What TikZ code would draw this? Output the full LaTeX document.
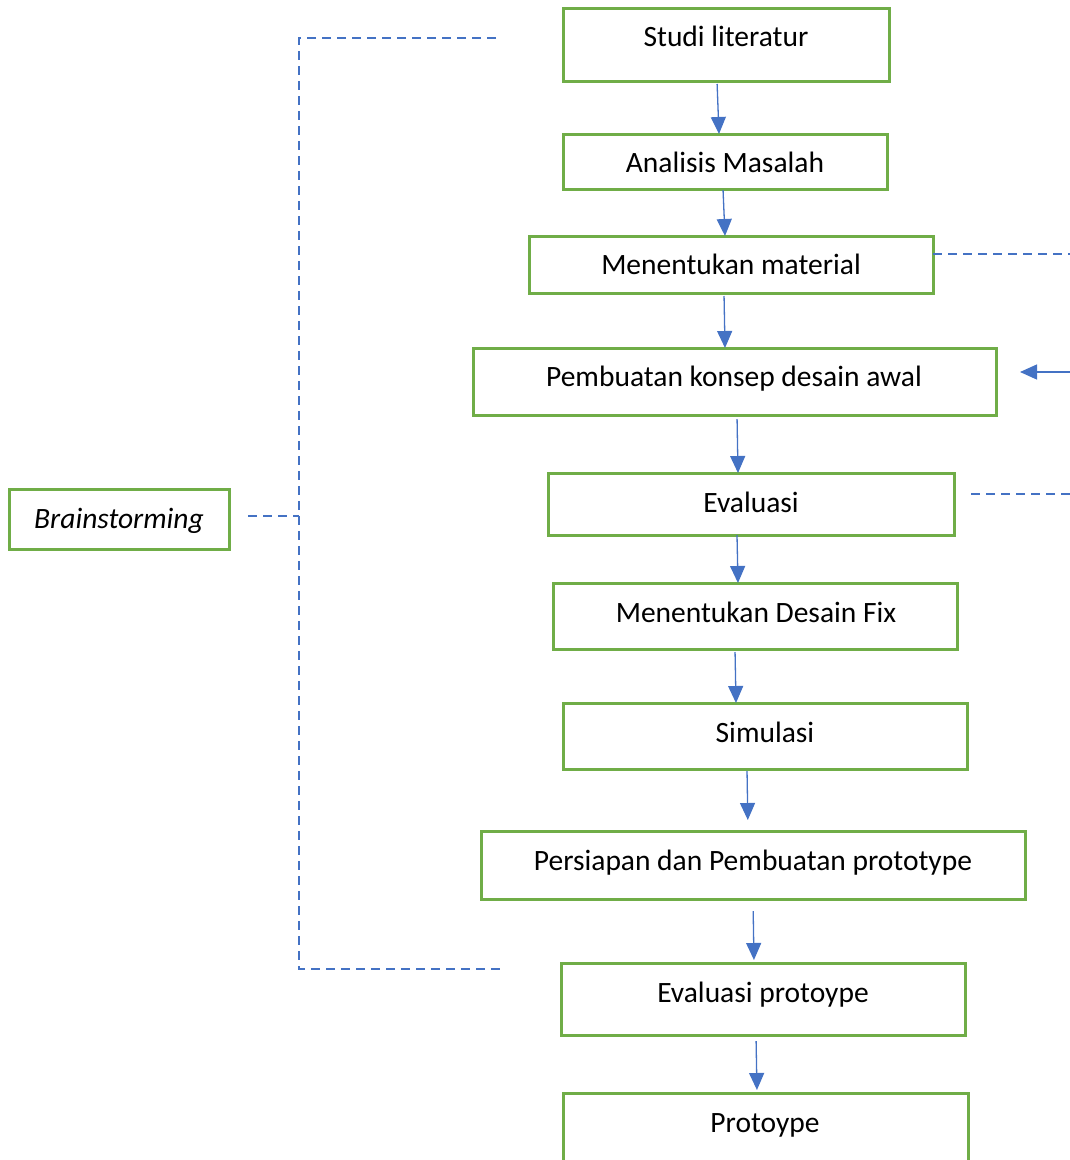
\documentclass[tikz,border=0pt]{standalone}
\usepackage{fontspec}
\setmainfont{Carlito}
\usepackage{tikz}
\usetikzlibrary{arrows.meta}
\definecolor{boxgreen}{HTML}{70AD47}
\definecolor{lineblue}{HTML}{4472C4}

\begin{document}
\begin{tikzpicture}[x=1pt, y=-1pt,
  every node/.style={outer sep=0pt, inner sep=0pt, text height=20pt, text depth=6pt,
    font=\fontsize{29.5}{34}\selectfont},
  box/.style={draw=boxgreen, line width=3pt},
  arr/.style={draw=lineblue, line width=1.3pt, -{Triangle[width=15pt, length=17pt]}},
  dashln/.style={draw=lineblue, line width=1.6pt, dash pattern=on 9pt off 6pt}]
\useasboundingbox (0,0) rectangle (1070,1160);

\node[box, minimum width=326, minimum height=73] (b1) at (726,44.5) {};
\node[box, minimum width=324, minimum height=55] (b2) at (725,161.5) {};
\node[box, minimum width=404, minimum height=57] (b3) at (731,264.5) {};
\node[box, minimum width=523, minimum height=67] (b4) at (734.5,381.5) {};
\node[box, minimum width=406, minimum height=62] (b5) at (751,504) {};
\node[box, minimum width=404, minimum height=66] (b6) at (755,616) {};
\node[box, minimum width=404, minimum height=66] (b7) at (765,736) {};
\node[box, minimum width=544, minimum height=68] (b8) at (753,865) {};
\node[box, minimum width=404, minimum height=72] (b9) at (763,999) {};
\node[box, minimum width=405, minimum height=72] (b10) at (765.5,1129) {};
\node[box, minimum width=220, minimum height=60] (bs) at (119,519) {};

\node (t1) at (726,39) {Studi literatur};
\node (t2) at (725,165) {Analisis Masalah};
\node (t3) at (731,267) {Menentukan material};
\node (t4) at (734,379) {Pembuatan konsep desain awal};
\node (t5) at (751,505) {Evaluasi};
\node (t6) at (756,615) {Menentukan Desain Fix};
\node (t7) at (765,735) {Simulasi};
\node (t8) at (753,863) {Persiapan dan Pembuatan prototype};
\node (t9) at (763,995) {Evaluasi protoype};
\node (t10) at (765,1125) {Protoype};
\node (ts) at (119,521) {\itshape Brainstorming};

% alur utama
\draw[arr, shorten <=3pt] ([xshift=-9pt]b1.south) -- ([xshift=-6pt]b2.north);
\draw[arr, shorten <=1pt] ([xshift=-2pt]b2.south) -- ([xshift=-6pt]b3.north);
\draw[arr, shorten <=3pt] ([xshift=-7pt]b3.south) -- ([xshift=-9.5pt]b4.north);
\draw[arr, shorten <=4pt] ([xshift=2.5pt]b4.south) -- ([xshift=-13pt]b5.north);
\draw[arr] ([xshift=-14pt]b5.south) -- ([xshift=-17pt]b6.north);
\draw[arr, shorten <=3pt] ([xshift=-20pt]b6.south) -- ([xshift=-29pt]b7.north);
\draw[arr, shorten <=2pt, shorten >=11pt] ([xshift=-18pt]b7.south) -- ([xshift=-5pt]b8.north);
\draw[arr, shorten <=12pt, shorten >=3pt] (b8.south) -- ([xshift=-9pt]b9.north);
\draw[arr, shorten <=6pt, shorten >=3pt] ([xshift=-7pt]b9.south) -- ([xshift=-8.5pt]b10.north);

% garis putus-putus
\coordinate (lt) at (496,38);
\coordinate (lb) at (500,969);
\coordinate (lm) at (299,516);
\coordinate (r3) at (1070,254);
\coordinate (r5) at (1070,494);
\coordinate (r4) at (1070,372);
\draw[dashln] (lt) -- (lt -| lm) -- (lb -| lm) -- (lb);
\draw[dashln, shorten <=19pt] (bs.east |- lm) -- (lm);
\draw[dashln] (b3.east |- r3) -- (r3);
\draw[dashln, shorten <=17pt] (b5.east |- r5) -- (r5);
\draw[arr, shorten >=24pt] (r4) -- (r4 -| b4.east);
\end{tikzpicture}
\end{document}
